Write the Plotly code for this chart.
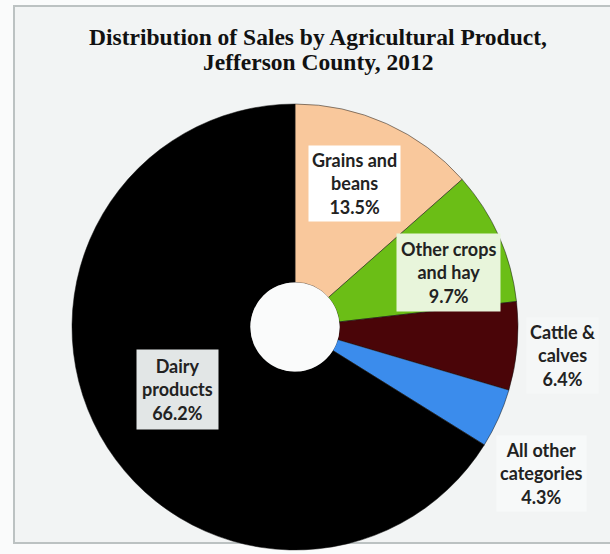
import plotly.graph_objects as go

# --- data -------------------------------------------------------------
categories = ["Grains and beans", "Other crops and hay", "Cattle & calves",
              "All other categories", "Dairy products"]
label_lines = ["Grains and<br>beans", "Other crops<br>and hay", "Cattle &<br>calves",
               "All other<br>categories", "Dairy<br>products"]
shares = [13.5, 9.7, 6.4, 4.3, 66.2]
title_lines = ["Distribution of Sales by Agricultural Product,", "Jefferson County, 2012"]

# --- styling ------------------------------------------------------------
slice_colors = ["#F9C89C", "#6BBE16", "#4A0508", "#3B8CEC", "#000000"]
box_colors = ["#FFFFFF", "#E8F5DB", "#F5F7F7", "#F7F9F9", "#E2E6E6"]
# label centres in pixels (x from left, y from top)
label_px = [(354, 183), (448, 272), (562, 355), (541, 473), (177, 389)]
label_pad = [3, 4, 3, 3, 5]
title_px = [(318, 37), (318, 62)]

W, H = 610, 554
cx, cy, r = 295, 327, 223      # pie centre and radius in pixels
hole = 0.2

fig = go.Figure()
fig.add_trace(go.Pie(
    labels=categories,
    values=shares,
    sort=False,
    direction="clockwise",
    rotation=0,
    hole=hole,
    marker=dict(colors=slice_colors, line=dict(color="rgba(20,20,20,0.5)", width=1)),
    textinfo="none",
    hoverinfo="label+percent",
    showlegend=False,
    domain=dict(x=[(cx - r) / W, (cx + r) / W], y=[1 - (cy + r) / H, 1 - (cy - r) / H]),
))

# chart frame
fig.add_shape(type="rect", xref="paper", yref="paper",
              x0=14 / W, x1=1.02, y0=1 - 543 / H, y1=1 - 6 / H,
              line=dict(color="#BCC2C2", width=2), fillcolor="#F2F4F4", layer="below")
# centre of the doughnut
hr = r * hole
fig.add_shape(type="circle", xref="paper", yref="paper",
              x0=(cx - hr) / W, x1=(cx + hr) / W, y0=1 - (cy + hr) / H, y1=1 - (cy - hr) / H,
              line=dict(width=0), fillcolor="#FAFBFB", layer="above")

# title, one annotation per line
for line, (px, py) in zip(title_lines, title_px):
    fig.add_annotation(
        text=f"<b>{line}</b>",
        xref="paper", yref="paper", x=px / W, y=1 - py / H,
        xanchor="center", yanchor="middle", showarrow=False,
        font=dict(family="Liberation Serif", size=23.5, color="#111111"),
    )

# data labels
for lines, v, (px, py), bg, pad in zip(label_lines, shares, label_px, box_colors, label_pad):
    fig.add_annotation(
        text=f"<b>{lines}<br>{v:.1f}%</b>",
        xref="paper", yref="paper", x=px / W, y=1 - py / H,
        xanchor="center", yanchor="middle", showarrow=False, align="center",
        bgcolor=bg, borderpad=pad,
        font=dict(family="Lato", size=18, color="#222222"),
    )

fig.update_layout(
    width=W, height=H,
    margin=dict(l=0, r=0, t=0, b=0),
    paper_bgcolor="#FAFBFB",
    plot_bgcolor="#FAFBFB",
)

fig.write_html("out.html")
